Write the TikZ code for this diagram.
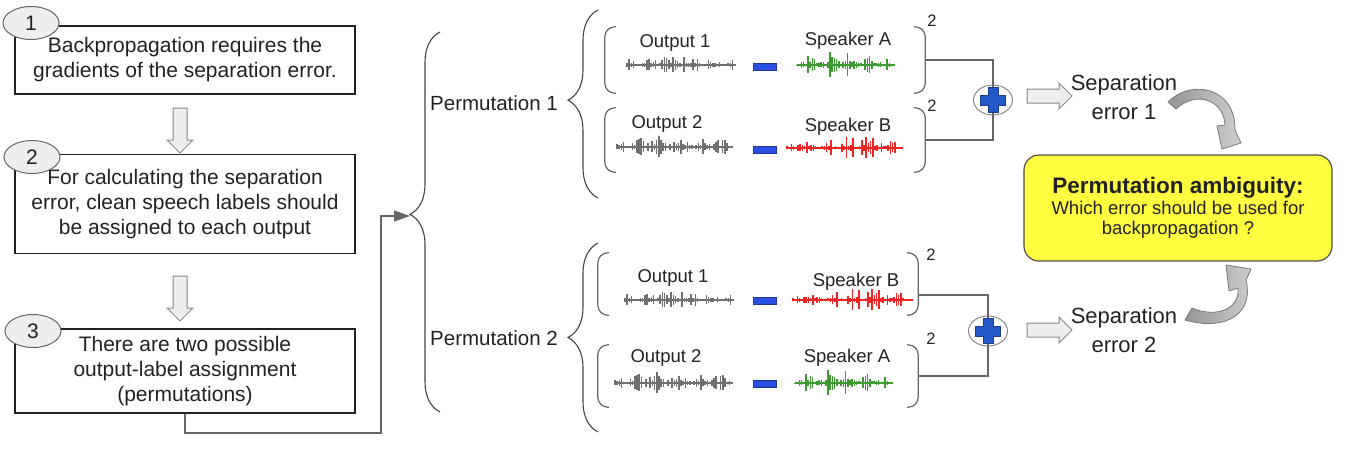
\documentclass[tikz,border=0pt]{standalone}
\usepackage{fontspec}
\setmainfont{Liberation Sans}
\usetikzlibrary{positioning,shapes.geometric,shapes.arrows,decorations.pathreplacing,arrows.meta}

\definecolor{inkcol}{HTML}{222222}
\definecolor{linecol}{HTML}{666666}
\definecolor{tagfill}{HTML}{EEEEEE}
\definecolor{blockfill}{HTML}{EEEEEE}
\definecolor{blockline}{HTML}{888888}
\definecolor{curvedark}{HTML}{959595}
\definecolor{curvelight}{HTML}{CFCFCF}
\definecolor{curveline}{HTML}{7A7A7A}
\definecolor{ambfill}{HTML}{FFFF40}
\definecolor{minuscol}{HTML}{2A4FE0}
\definecolor{pluscol}{HTML}{2258C8}
\definecolor{wavegray}{HTML}{707070}
\definecolor{wavegreen}{HTML}{3C9A30}
\definecolor{wavered}{HTML}{EE2424}

% speech waveform: x start, x end, y, colour, seed
\newcommand{\wavefm}[5]{%
  \pgfmathsetseed{#5}
  \draw[#4, line width=1.6pt] (#1,#3) -- (#2,#3);
  \pgfmathtruncatemacro\wn{(#2-#1)/2.2}
  \foreach \k in {0,...,\wn} {
    \pgfmathsetmacro\wh{(2+12*rnd^2)*(0.2+0.8*abs(sin(\k*19+#5*7)))*(0.3+0.7*sqrt(sin(180*\k/\wn)))}
    \draw[#4, line width=1.5pt] (#1+2.2*\k,#3-\wh) -- (#1+2.2*\k,#3+0.9*\wh);
  }
}

\tikzset{
  stepbox/.style={draw=inkcol, line width=1.3pt, align=center, minimum width=340pt,
    font=\fontsize{21}{25}\selectfont},
  numtag/.style={ellipse, draw=linecol, fill=tagfill, line width=1pt, minimum width=56pt,
    minimum height=33pt, inner sep=0pt, font=\fontsize{21}{25}\selectfont},
  blockarrow/.style={single arrow, draw=blockline, fill=blockfill, line width=1pt,
    inner sep=6.5pt, single arrow head extend=6pt, minimum width=25pt, minimum height=45pt},
  bracepath/.style={decorate, draw=inkcol!85, line width=1.1pt},
  conn/.style={draw=linecol, line width=1.1pt},
  paren/.style={draw=linecol, line width=1.2pt, rounded corners=10pt},
  rowbox/.style={draw=none, inner sep=0pt},
  permlbl/.style={font=\fontsize{20.5}{24}\selectfont},
  wavelbl/.style={font=\fontsize{18.5}{22}\selectfont},
  sqlbl/.style={font=\fontsize{16.5}{19}\selectfont},
  minusbar/.style={draw=minuscol!70!black, fill=minuscol, line width=0.5pt,
    minimum width=23pt, minimum height=7pt, inner sep=0pt},
  sumnode/.style={ellipse, draw=blockline, line width=1pt, minimum width=39pt,
    minimum height=30pt, inner sep=0pt},
  plusmark/.style={fill=pluscol, draw=pluscol!70!black, line width=0.6pt},
  seplbl/.style={align=center, font=\fontsize{22}{29}\selectfont},
  ambbox/.style={draw=inkcol!80, fill=ambfill, line width=1.2pt, rounded corners=15pt,
    align=center, minimum width=308pt, minimum height=106pt,
    font=\fontsize{18.5}{20.5}\selectfont},
  curvearrow/.style={left color=curvedark, right color=curvelight, draw=curveline,
    line width=0.8pt, line join=round}
}

\begin{document}
\begin{tikzpicture}[x=1pt, y=-1pt, every node/.style={text=inkcol}]
\useasboundingbox (0,0) rectangle (1355,451);

% Steps on the left
\node[stepbox, minimum height=68pt] (b1) at (185,60) {Backpropagation requires the\\gradients of the separation error.};
\node[stepbox, minimum height=99pt] (b2) at (185,204) {For calculating the separation\\error, clean speech labels should\\be assigned to each output};
\node[stepbox, minimum height=84pt] (b3) at (185,371) {There are two possible\\output-label assignment\\(permutations)};
\node[numtag] (n1) at (31,23) {1};
\node[numtag] (n2) at (32,157) {2};
\node[numtag] (n3) at (33,331) {3};
\node[blockarrow, rotate=-90] (d1) at (180,127) {};
\node[blockarrow, rotate=-90] (d2) at (180,295) {};

% Braces
\coordinate (outtip) at (410,216);
\draw[bracepath, decoration={brace, amplitude=30pt, aspect=0.52}] (440,412) -- (440,32);
\draw[bracepath, decoration={brace, amplitude=30pt, aspect=0.52}] (598,198) -- (598,10);
\draw[bracepath, decoration={brace, amplitude=30pt, aspect=0.5}] (598,432) -- (598,243);

% Connector from step 3
\coordinate (bend) at (381,433);
\draw[conn, -{Triangle[length=16pt, width=11pt]}] (b3.south) |- (bend) |- (outtip);

% Permutation labels
\node[permlbl] (pl1) at (494,103) {Permutation 1};
\node[permlbl] (pl2) at (494,338) {Permutation 2};

% Rows with parentheses
\node[rowbox, minimum width=320pt, minimum height=66pt] (r1) at (765,60) {};
\node[rowbox, minimum width=320pt, minimum height=64pt] (r2) at (765,140) {};
\node[rowbox, minimum width=320pt, minimum height=62pt] (r3) at (758,284) {};
\node[rowbox, minimum width=320pt, minimum height=62pt] (r4) at (758,376) {};
\foreach \r in {r1,r2,r3,r4} {
  \draw[paren] ([xshift=11pt]\r.north west) -- (\r.north west) -- (\r.south west) -- ([xshift=11pt]\r.south west);
  \draw[paren] ([xshift=-11pt]\r.north east) -- (\r.north east) -- (\r.south east) -- ([xshift=-11pt]\r.south east);
}

% Labels and waveforms
\node[wavelbl] (o1) at (675,43) {Output 1};
\node[wavelbl] (s1) at (848,41) {Speaker A};
\node[wavelbl] (o2) at (667,124) {Output 2};
\node[wavelbl] (s2) at (848,127) {Speaker B};
\node[wavelbl] (o3) at (673,278) {Output 1};
\node[wavelbl] (s3) at (856,282) {Speaker B};
\node[wavelbl] (o4) at (666,358) {Output 2};
\node[wavelbl] (s4) at (847,358) {Speaker A};
\foreach \y [count=\i] in {67,150,301,384}
  \node[minusbar] (m\i) at (765,\y) {};
\wavefm{627}{735}{65}{wavegray}{11}
\wavefm{797}{895}{65}{wavegreen}{23}
\wavefm{617}{733}{147}{wavegray}{37}
\wavefm{787}{903}{148}{wavered}{41}
\wavefm{625}{733}{300}{wavegray}{11}
\wavefm{793}{912}{300}{wavered}{41}
\wavefm{615}{733}{383}{wavegray}{37}
\wavefm{795}{893}{383}{wavegreen}{23}

% Squares
\node[sqlbl] (q1) at (932,21) {2};
\node[sqlbl] (q2) at (932,106) {2};
\node[sqlbl] (q3) at (931,255) {2};
\node[sqlbl] (q4) at (931,339) {2};

% Sums
\node[sumnode] (c1) at (993,100) {};
\node[sumnode] (c2) at (988,331) {};
\draw[conn] (r1.east) -| (c1.center);
\draw[conn] (r2.east) -| (c1.center);
\draw[conn] ([yshift=-11pt]r3.east) -| (c2.center);
\draw[conn] (r4.east) -| (c2.center);
\foreach \c in {c1,c2} {
  \begin{scope}[shift={(\c.center)}]
    \draw[plusmark] (-5,-12.5) -- (5,-12.5) -- (5,-5) -- (12.5,-5) -- (12.5,5) -- (5,5)
      -- (5,12.5) -- (-5,12.5) -- (-5,5) -- (-12.5,5) -- (-12.5,-5) -- (-5,-5) -- cycle;
  \end{scope}
}

% Errors
\node[blockarrow] (e1) at (1046,96) {};
\node[blockarrow] (e2) at (1046,330) {};
\node[seplbl] (t1) at (1124,97) {Separation\\error 1};
\node[seplbl] (t2) at (1124,330) {Separation\\error 2};
\node[ambbox] (amb) at (1178,208) {{\fontsize{22.5}{26}\selectfont\bfseries Permutation ambiguity:}\\Which error should be used for\\backpropagation ?};

% Curved arrows into the ambiguity box
\draw[curvearrow] (1168,102) .. controls (1192,78) and (1236,88) .. (1235,130)
  -- (1241,143) -- (1222,149) -- (1217,126) -- (1225,125)
  .. controls (1224,100) and (1196,90) .. (1176,109) -- cycle;
\draw[curvearrow] (1192,308) .. controls (1215,318) and (1240,310) .. (1238,288)
  -- (1229,291) -- (1226,265) -- (1251,269) -- (1246,280)
  .. controls (1254,312) and (1228,332) .. (1185,320) -- cycle;

\end{tikzpicture}
\end{document}
